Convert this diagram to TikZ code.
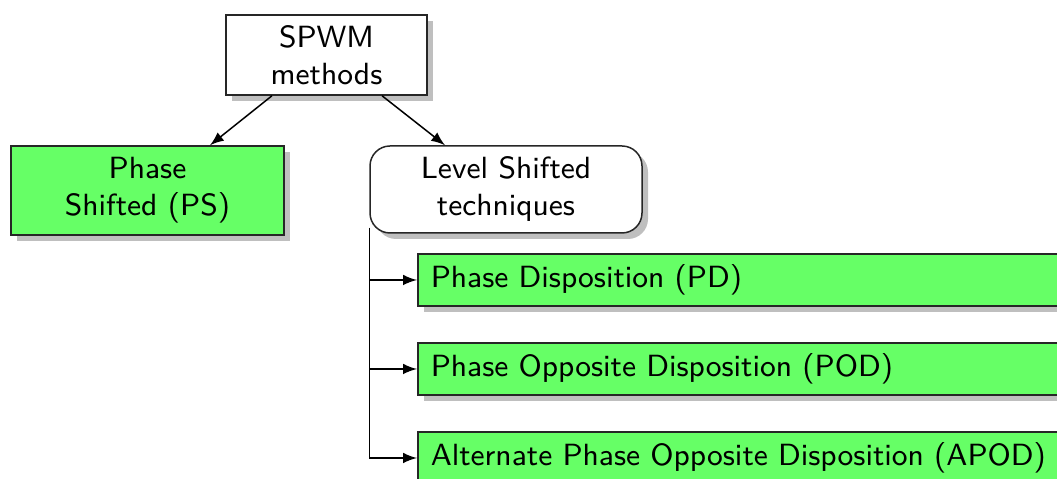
\documentclass[tikz,border=0pt]{standalone}
\usetikzlibrary{shadows,calc,arrows}
\definecolor{boxgreen}{HTML}{66FF66}
\tikzset{
  base/.style={draw=black!85, line width=0.45pt,
    font=\sffamily\fontsize{9.2}{11.1}\selectfont, inner ysep=2pt,
    drop shadow={shadow xshift=1.8pt, shadow yshift=-1.8pt, fill=black!25, opacity=1}},
  whitebox/.style={base, fill=white, align=center},
  greenbox/.style={base, fill=boxgreen, align=center},
  leafbox/.style={base, fill=boxgreen, anchor=west, minimum height=15.6pt,
    text width=250pt, align=left, inner xsep=3.9pt},
  conn/.style={-latex, line width=0.45pt}
}
\begin{document}
\begin{tikzpicture}[x=0.3pt, y=-0.3pt]
  \useasboundingbox (0,0) rectangle (1057,479);
  \clip (0,0) rectangle (1057,479);

  % top level
  \node[whitebox, minimum width=60.3pt, minimum height=24pt] (spwm) at (326.5,55) {SPWM\\methods};

  % second level
  \node[greenbox, minimum width=81.9pt, minimum height=26.7pt] (ps) at (147.5,190.5) {Phase\\Shifted (PS)};
  \node[whitebox, rounded corners=6pt, minimum width=81.6pt, minimum height=26.1pt] (ls) at (506,189.5) {Level Shifted\\techniques};

  % level shifted variants
  \node[leafbox] (pd)   at (417,280) {Phase Disposition (PD)};
  \node[leafbox] (pod)  at (417,369) {Phase Opposite Disposition (POD)};
  \node[leafbox] (apod) at (417,458) {Alternate Phase Opposite Disposition (APOD)};

  % connectors
  \draw[conn] ([xshift=-16.35pt]spwm.south) -- ([xshift=18.75pt]ps.north);
  \draw[conn] ([xshift=16.65pt]spwm.south) -- ([xshift=-18.3pt]ls.north);
  \draw[conn] ([yshift=1.8pt]ls.south west) |- (apod.west);
  \draw[conn] (ls.south west |- pd.west) -- (pd.west);
  \draw[conn] (ls.south west |- pod.west) -- (pod.west);
\end{tikzpicture}
\end{document}
